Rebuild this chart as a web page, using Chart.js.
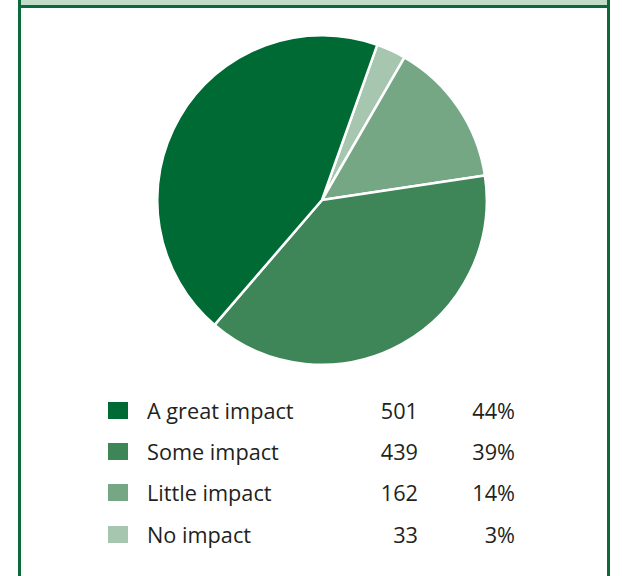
<!DOCTYPE html>
<html>
<head>
<meta charset="utf-8">
<script src="https://cdn.jsdelivr.net/npm/chart.js@4"></script>
<style>
  html, body { margin: 0; padding: 0; background: #fff; }
  #wrap { position: relative; width: 622px; height: 576px; overflow: hidden; background: #fff; font-family: "Open Sans", Lato, sans-serif; }
  #frame { position: absolute; left: 18px; top: -4px; width: 586px; height: 600px; border: 3px solid #0b6a3a; box-sizing: content-box; }
  #band { position: absolute; left: 21px; top: 0; width: 586px; height: 5px; background: #c3dcc8; border-bottom: 3px solid #0b6a3a; }
  #pie { position: absolute; left: 154px; top: 32px; width: 336px; height: 336px; }
  #legend { position: absolute; left: 0; top: 0; width: 622px; }
  .row { position: absolute; left: 0; height: 30px; width: 622px; color: #231f20; font-size: 21.7px; }
  .sw { position: absolute; left: 108px; width: 20px; height: 17px; }
  .lab { position: absolute; left: 147px; white-space: nowrap; }
  .num { position: absolute; right: 204px; text-align: right; }
  .pct { position: absolute; right: 107px; text-align: right; }
</style>
</head>
<body>
<div id="wrap">
  <div id="frame"></div>
  <div id="band"></div>
  <div id="pie"><canvas id="c" width="336" height="336"></canvas></div>
  <div id="legend"></div>
</div>
<script>
const categories = ["A great impact", "Some impact", "Little impact", "No impact"];
const counts = [501, 439, 162, 33];
const percentLabels = ["44%", "39%", "14%", "3%"];
const colors = ["#006a35", "#3e8558", "#75a785", "#a7c6af"];

// legend table
const legend = document.getElementById('legend');
const rowCenters = [411, 452, 493, 535];
categories.forEach((cat, i) => {
  const row = document.createElement('div');
  row.className = 'row';
  row.style.top = (rowCenters[i] - 15) + 'px';
  row.style.lineHeight = '30px';
  row.innerHTML = '<div class="sw" style="top:6px;background:' + colors[i] + '"></div>' +
    '<span class="lab">' + cat + '</span>' +
    '<span class="num">' + counts[i] + '</span>' +
    '<span class="pct">' + percentLabels[i] + '</span>';
  legend.appendChild(row);
});

// pie drawn counter-clockwise in the source: feed reversed order to Chart.js
const revLabels = categories.slice().reverse();
const revCounts = counts.slice().reverse();
const revColors = colors.slice().reverse();

new Chart(document.getElementById('c'), {
  type: 'pie',
  data: {
    labels: revLabels,
    datasets: [{
      data: revCounts,
      backgroundColor: revColors,
      borderColor: '#ffffff',
      borderWidth: 2.5
    }]
  },
  options: {
    responsive: false,
    animation: false,
    rotation: 19.6,
    layout: { padding: 2 },
    plugins: { legend: { display: false }, tooltip: { enabled: false } }
  }
});
</script>
</body>
</html>
